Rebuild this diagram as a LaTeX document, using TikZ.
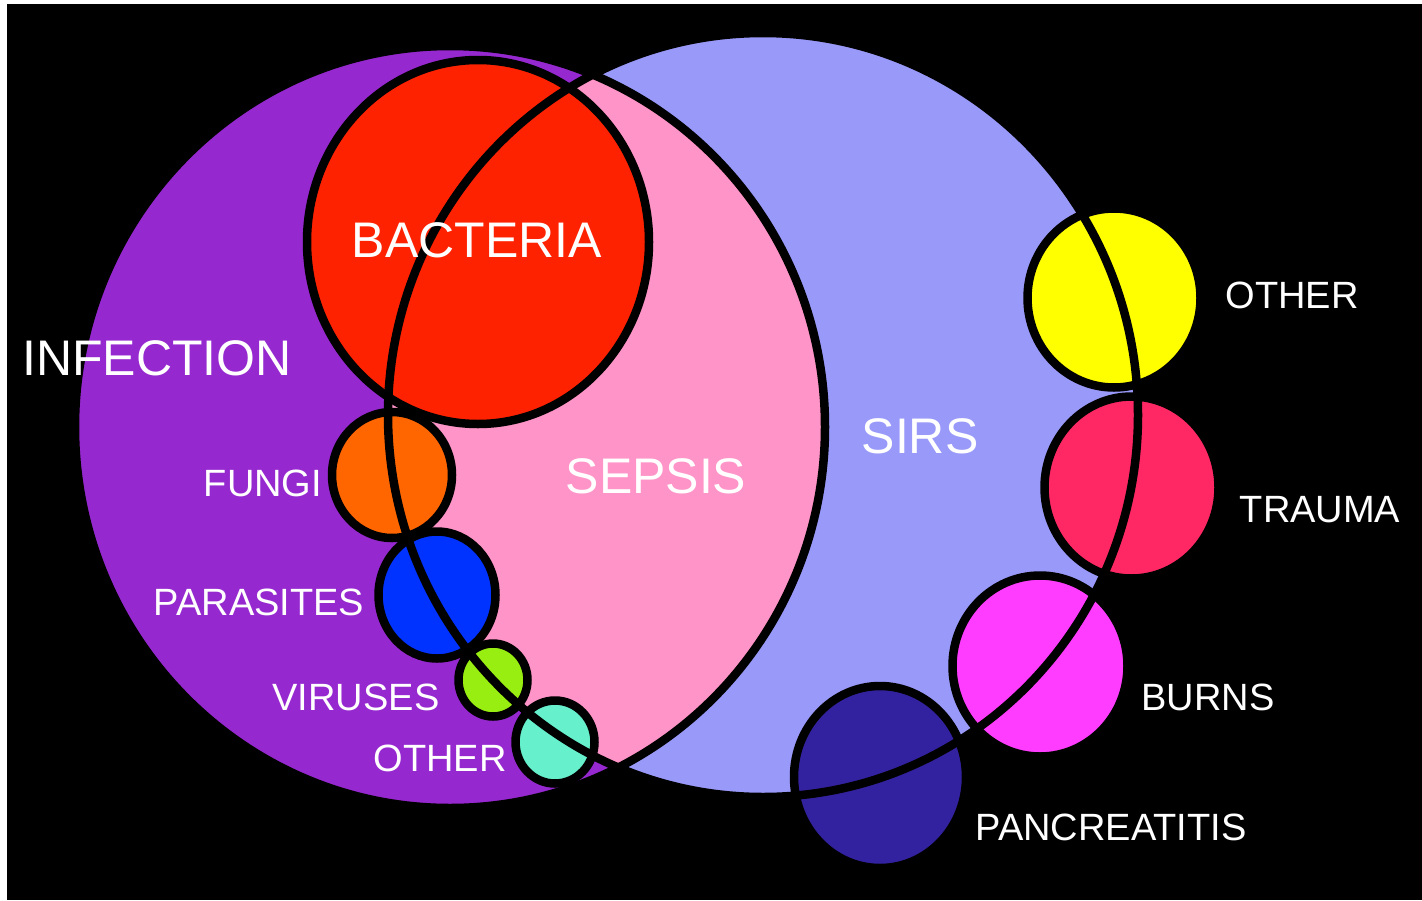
\documentclass[tikz,border=0pt]{standalone}
\usepackage{fontspec}
\setmainfont{Liberation Sans}
\definecolor{infp}{RGB}{150,40,208}
\definecolor{sirsc}{RGB}{153,153,250}
\definecolor{sepc}{RGB}{255,148,200}
\definecolor{bacc}{RGB}{255,34,0}
\definecolor{fungc}{RGB}{255,102,0}
\definecolor{parc}{RGB}{0,51,255}
\definecolor{virc}{RGB}{153,238,17}
\definecolor{othlc}{RGB}{102,240,204}
\definecolor{othrc}{RGB}{255,255,0}
\definecolor{traumc}{RGB}{255,40,100}
\definecolor{burnc}{RGB}{255,60,255}
\definecolor{pancc}{RGB}{51,34,160}
\begin{document}
\begin{tikzpicture}[x=1pt,y=-1pt,
  outl/.style={draw=black,line width=8.5pt},
  lbl/.style={text=white,inner sep=0pt,anchor=center,font=\fontsize{38}{40}\selectfont},
  biglbl/.style={text=white,inner sep=0pt,anchor=center,font=\fontsize{50}{52}\selectfont}]
\useasboundingbox (0,0) rectangle (1422,900);
\fill[white] (0,0) rectangle (1422,900);
\fill[black] (7,4) rectangle (1422,900);
% big sets
\fill[infp] (450,427) ellipse [x radius=375pt, y radius=381pt];
\fill[sirsc] (763,415) ellipse [x radius=375pt, y radius=382pt];
\begin{scope}
  \clip (450,427) ellipse [x radius=375pt, y radius=381pt];
  \fill[sepc] (763,415) ellipse [x radius=375pt, y radius=382pt];
\end{scope}
% small circles fills
\fill[bacc] (478,242) ellipse [x radius=171pt, y radius=182pt];
\fill[fungc] (392,475) ellipse [x radius=60pt, y radius=63pt];
\fill[parc] (437,595) ellipse [x radius=58.5pt, y radius=63.5pt];
\fill[virc] (493,680) ellipse [x radius=34.5pt, y radius=36.5pt];
\fill[othlc] (555,742) ellipse [x radius=39.5pt, y radius=41.5pt];
\fill[othrc] (1114,298) ellipse [x radius=86.5pt, y radius=89.5pt];
\fill[traumc] (1131.5,487.5) ellipse [x radius=87pt, y radius=91pt];
\fill[burnc] (1040,666) ellipse [x radius=87.5pt, y radius=90.5pt];
\fill[pancc] (880,777) ellipse [x radius=86pt, y radius=91pt];
% outlines
\draw[outl] (450,427) ellipse [x radius=375pt, y radius=381pt];
\draw[outl] (763,415) ellipse [x radius=375pt, y radius=382pt];
\draw[outl] (478,242) ellipse [x radius=171pt, y radius=182pt];
\draw[outl] (392,475) ellipse [x radius=60pt, y radius=63pt];
\draw[outl] (437,595) ellipse [x radius=58.5pt, y radius=63.5pt];
\draw[outl] (493,680) ellipse [x radius=34.5pt, y radius=36.5pt];
\draw[outl] (555,742) ellipse [x radius=39.5pt, y radius=41.5pt];
\draw[outl] (1114,298) ellipse [x radius=86.5pt, y radius=89.5pt];
\draw[outl] (1131.5,487.5) ellipse [x radius=87pt, y radius=91pt];
\draw[outl] (1040,666) ellipse [x radius=87.5pt, y radius=90.5pt];
\draw[outl] (880,777) ellipse [x radius=86pt, y radius=91pt];
% labels
\node[biglbl] (infection) at (157,358) {INFECTION};
\node[biglbl] (bacteria) at (477,240) {BACTERIA};
\node[biglbl] (sepsis) at (656,476) {SEPSIS};
\node[biglbl] (sirs) at (920,436) {SIRS};
\node[lbl] (fungi) at (263,483) {FUNGI};
\node[lbl] (parasites) at (259,602) {PARASITES};
\node[lbl] (viruses) at (356,697) {VIRUSES};
\node[lbl] (otherl) at (440,758) {OTHER};
\node[lbl] (otherr) at (1292,295) {OTHER};
\node[lbl] (trauma) at (1320,510) {TRAUMA};
\node[lbl] (burns) at (1208,697) {BURNS};
\node[lbl] (panc) at (1111,827) {PANCREATITIS};
\end{tikzpicture}
\end{document}
